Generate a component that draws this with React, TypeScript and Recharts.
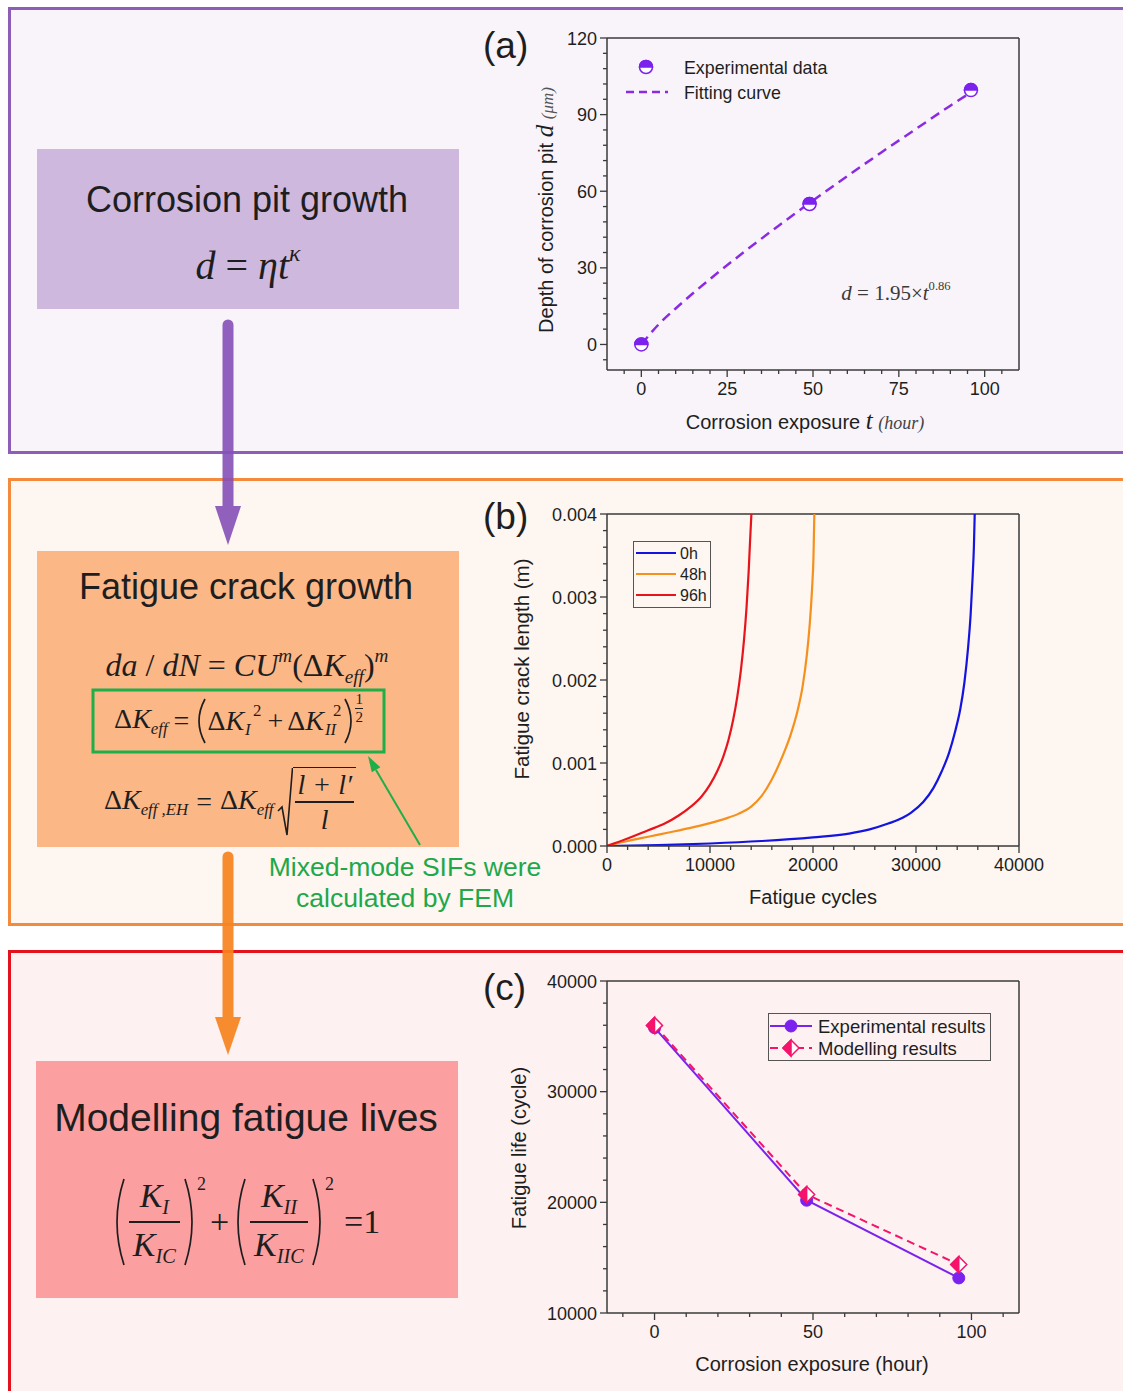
import React from "react";
import { ComposedChart, Line, XAxis, YAxis, ReferenceLine } from "recharts";

const sans = '"Liberation Sans", Arial, Helvetica, sans-serif';
const serif = '"Liberation Serif", "Times New Roman", serif';
const AX = "#3a3a3a";
const INK = "#1e1e1e";
const PURPLE = "#7b22ee";
const PINK = "#f5136b";

// (a) corrosion pit depth vs exposure time
const pitHours = [0, 49, 96];
const pitDepths = [0, 55, 99.6];
const fitHours = [0, 5, 10, 20, 30, 40, 50, 60, 70, 80, 90, 96];
const fitDepths = [0, 7.8, 14.1, 25.6, 36.3, 46.5, 56.4, 65.9, 75.3, 84.4, 93.5, 98.7];
const pitXMajor = [0, 25, 50, 75, 100];
const pitXMinor = [-5, 5, 10, 15, 20, 30, 35, 40, 45, 55, 60, 65, 70, 80, 85, 90, 95, 105];
const pitYMajor = [0, 30, 60, 90, 120];
const pitYMinor = [-6, 6, 12, 18, 24, 36, 42, 48, 54, 66, 72, 78, 84, 96, 102, 108, 114];

// (b) fatigue crack length vs cycles
const cycles0h = [0, 5000, 10000, 15000, 20000, 23500, 25500, 27300, 28700, 29500, 30700, 31700, 32500, 33200, 33800, 34300, 34700, 35050, 35300, 35500, 35620, 35700];
const length0h = [0, 0.00001, 0.00003, 0.00006, 0.000105, 0.00015, 0.0002, 0.00027, 0.00034, 0.0004, 0.00053, 0.0007, 0.0009, 0.00112, 0.00138, 0.00165, 0.00197, 0.00238, 0.00278, 0.00325, 0.0036, 0.004];
const cycles48h = [0, 2000, 4000, 6000, 8000, 10000, 11500, 12800, 14000, 15000, 16000, 17000, 17800, 18500, 19000, 19400, 19700, 19900, 20050, 20130];
const length48h = [0, 0.00006, 0.000112, 0.000163, 0.000215, 0.000275, 0.00033, 0.00039, 0.000475, 0.0006, 0.0008, 0.00107, 0.00133, 0.00163, 0.00193, 0.0023, 0.0027, 0.00308, 0.0035, 0.004];
const cycles96h = [0, 2000, 4000, 5600, 7000, 8200, 9200, 10000, 10700, 11300, 11800, 12250, 12650, 13000, 13300, 13550, 13750, 13900, 14020];
const length96h = [0, 0.00009, 0.00019, 0.00027, 0.00037, 0.00048, 0.0006, 0.00074, 0.0009, 0.00108, 0.00128, 0.00152, 0.0018, 0.00212, 0.00248, 0.00288, 0.0033, 0.0037, 0.004];
const crackXMajor = [0, 10000, 20000, 30000, 40000];
const crackXMinor = [2000, 4000, 6000, 8000, 12000, 14000, 16000, 18000, 22000, 24000, 26000, 28000, 32000, 34000, 36000, 38000];
const crackYMajor = [0, 0.001, 0.002, 0.003, 0.004];
const crackYMinor = [0.0002, 0.0004, 0.0006, 0.0008, 0.0012, 0.0014, 0.0016, 0.0018, 0.0022, 0.0024, 0.0026, 0.0028, 0.0032, 0.0034, 0.0036, 0.0038];

// (c) fatigue life vs exposure time
const lifeHours = [0, 48, 96];
const lifeExperimental = [35780, 20190, 13170];
const lifeModelling = [35990, 20710, 14380];
const lifeXMajor = [0, 50, 100];
const lifeXMinor = [-10, 10, 20, 30, 40, 60, 70, 80, 90, 110];
const lifeYMajor = [10000, 20000, 30000, 40000];
const lifeYMinor = [12000, 14000, 16000, 18000, 22000, 24000, 26000, 28000, 32000, 34000, 36000, 38000];

const pitData = pitHours.map((t, i) => ({ x: t, y: pitDepths[i] }));
const fitData = fitHours.map((t, i) => ({ x: t, y: fitDepths[i] }));
const crack0 = cycles0h.map((n, i) => ({ x: n, y: length0h[i] }));
const crack48 = cycles48h.map((n, i) => ({ x: n, y: length48h[i] }));
const crack96 = cycles96h.map((n, i) => ({ x: n, y: length96h[i] }));
const lifeExp = lifeHours.map((t, i) => ({ x: t, y: lifeExperimental[i] }));
const lifeMod = lifeHours.map((t, i) => ({ x: t, y: lifeModelling[i] }));

const isMajor = (majors: number[], v: number) => majors.some((m) => Math.abs(m - v) < 1e-9);

const xTick = (majors: number[], fmt: (v: number) => string) => (p: any) => {
  const { x, y, payload } = p;
  const big = isMajor(majors, payload.value);
  return (
    <g key={`xt-${payload.value}`}>
      <line x1={x} x2={x} y1={y} y2={y + (big ? 7 : 4)} stroke={AX} strokeWidth={1.3} />
      {big && (
        <text x={x} y={y + 25} textAnchor="middle" fontFamily={sans} fontSize={18} fill={INK}>
          {fmt(payload.value)}
        </text>
      )}
    </g>
  );
};

const yTick = (majors: number[], fmt: (v: number) => string) => (p: any) => {
  const { x, y, payload } = p;
  const big = isMajor(majors, payload.value);
  return (
    <g key={`yt-${payload.value}`}>
      <line x1={x} x2={x - (big ? 7 : 4)} y1={y} y2={y} stroke={AX} strokeWidth={1.3} />
      {big && (
        <text x={x - 10} y={y + 6.5} textAnchor="end" fontFamily={sans} fontSize={18} fill={INK}>
          {fmt(payload.value)}
        </text>
      )}
    </g>
  );
};

const HalfCircle = (props: any) => {
  const { cx, cy, index } = props;
  if (cx == null || cy == null) return <g key={index} />;
  const r = 6.5;
  return (
    <g key={index}>
      <circle cx={cx} cy={cy} r={r} fill="#fff" stroke={PURPLE} strokeWidth={1.5} />
      <path d={`M${cx - r},${cy} A${r},${r} 0 0 1 ${cx + r},${cy} Z`} fill={PURPLE} stroke={PURPLE} strokeWidth={1.5} />
    </g>
  );
};

const FullCircle = (props: any) => {
  const { cx, cy, index } = props;
  if (cx == null || cy == null) return <g key={index} />;
  return <circle key={index} cx={cx} cy={cy} r={6} fill={PURPLE} stroke={PURPLE} />;
};

const HalfDiamond = (props: any) => {
  const { cx, cy, index } = props;
  if (cx == null || cy == null) return <g key={index} />;
  const s = 8;
  return (
    <g key={index}>
      <polygon points={`${cx},${cy - s} ${cx + s},${cy} ${cx},${cy + s} ${cx - s},${cy}`} fill="#fff" stroke={PINK} strokeWidth={1.5} />
      <polygon points={`${cx},${cy - s} ${cx},${cy + s} ${cx - s},${cy}`} fill={PINK} stroke={PINK} strokeWidth={1.5} />
    </g>
  );
};

const axisLine = { stroke: AX, strokeWidth: 1.5 };
const chartMargin = { top: 18, right: 41, bottom: 0, left: 0 };

function Txt({ x, y, size, children, anchor = "center", color = INK, family = sans }: any) {
  const tx = anchor === "center" ? "-50%" : "0";
  return (
    <div
      style={{
        position: "absolute",
        left: x,
        top: y,
        transform: `translate(${tx},-50%)`,
        whiteSpace: "nowrap",
        fontFamily: family,
        fontSize: size,
        lineHeight: 1.15,
        color,
      }}
    >
      {children}
    </div>
  );
}

function VTxt({ x, y, size, children }: any) {
  return (
    <div
      style={{
        position: "absolute",
        left: x,
        top: y,
        transform: "translate(-50%,-50%) rotate(-90deg)",
        whiteSpace: "nowrap",
        fontFamily: sans,
        fontSize: size,
        lineHeight: 1.15,
        color: INK,
      }}
    >
      {children}
    </div>
  );
}

const Sub = ({ children }: any) => (
  <span style={{ fontSize: "0.6em", verticalAlign: "-0.35em", fontStyle: "italic" }}>{children}</span>
);
const Sup = ({ children, italic = false }: any) => (
  <span style={{ fontSize: "0.6em", verticalAlign: "0.75em", fontStyle: italic ? "italic" : "normal" }}>{children}</span>
);
const SubSup = ({ sub, sup }: any) => (
  <span style={{ display: "inline-flex", flexDirection: "column", fontSize: "0.6em", lineHeight: 1, marginLeft: 1, marginRight: 2 }}>
    <span style={{ paddingLeft: 8 }}>{sup}</span>
    <span style={{ fontStyle: "italic", marginTop: 2 }}>{sub}</span>
  </span>
);

const Paren = ({ h, right = false, w = 12 }: any) => (
  <svg width={w} height={h} style={{ display: "block", flex: "none" }}>
    <path
      d={right ? `M2,2 Q${w + 2},${h / 2} 2,${h - 2}` : `M${w - 2},2 Q-2,${h / 2} ${w - 2},${h - 2}`}
      fill="none"
      stroke={INK}
      strokeWidth={1.7}
    />
  </svg>
);

const Frac = ({ num, den }: any) => (
  <span style={{ display: "inline-flex", flexDirection: "column", alignItems: "center", lineHeight: 1.1, margin: "0 3px" }}>
    <span style={{ padding: "0 4px" }}>{num}</span>
    <span style={{ alignSelf: "stretch", height: 1.6, background: INK, margin: "3px 0" }} />
    <span style={{ padding: "0 4px" }}>{den}</span>
  </span>
);

export default function App() {
  return (
    <div style={{ position: "absolute", left: 0, top: 0, width: 1123, height: 1391, overflow: "hidden", background: "#fff" }}>
      {/* panels */}
      <div style={{ position: "absolute", left: 8, top: 7, width: 1140, height: 447, boxSizing: "border-box", border: "3px solid #8e5db8", background: "#f9f4f9" }} />
      <div style={{ position: "absolute", left: 8, top: 478, width: 1140, height: 448, boxSizing: "border-box", border: "3px solid #f48a3c", background: "#fdf6f1" }} />
      <div style={{ position: "absolute", left: 8, top: 950, width: 1140, height: 500, boxSizing: "border-box", border: "3px solid #e3121c", background: "#fdf1f1" }} />

      {/* left boxes */}
      <div style={{ position: "absolute", left: 37, top: 149, width: 422, height: 160, background: "#cfb8de" }} />
      <div style={{ position: "absolute", left: 37, top: 551, width: 422, height: 296, background: "#fcb787" }} />
      <div style={{ position: "absolute", left: 36, top: 1061, width: 422, height: 237, background: "#fc9fa0" }} />

      <Txt x={247} y={200} size={36}>Corrosion pit growth</Txt>
      <div style={{ position: "absolute", left: 37, width: 422, top: 228, textAlign: "center", fontFamily: serif, fontSize: 40, lineHeight: "50px", color: INK }}>
        <i>d</i> = <i>ηt</i>
        <Sup italic>κ</Sup>
      </div>

      <Txt x={246} y={587} size={36}>Fatigue crack growth</Txt>
      <div style={{ position: "absolute", left: 37, width: 420, top: 634, textAlign: "center", fontFamily: serif, fontSize: 32, lineHeight: "44px", color: INK }}>
        <i>da</i> / <i>dN</i> = <i>CU</i>
        <Sup italic>m</Sup>(Δ<i>K</i>
        <Sub>eff</Sub>)<Sup italic>m</Sup>
      </div>
      <div style={{ position: "absolute", left: 93, width: 291, top: 690, height: 62, display: "flex", alignItems: "center", justifyContent: "center", fontFamily: serif, fontSize: 28, color: INK }}>
        <span>
          Δ<i>K</i>
          <Sub>eff</Sub>
        </span>
        <span style={{ margin: "0 6px" }}>=</span>
        <Paren h={48} />
        <span>
          Δ<i>K</i>
        </span>
        <SubSup sub="I" sup="2" />
        <span style={{ margin: "0 4px" }}>+</span>
        <span>
          Δ<i>K</i>
        </span>
        <SubSup sub="II" sup="2" />
        <Paren h={48} right />
        <span style={{ display: "inline-flex", flexDirection: "column", alignItems: "center", fontSize: 15, lineHeight: 1, alignSelf: "flex-start", marginTop: 2 }}>
          <span>1</span>
          <span style={{ alignSelf: "stretch", height: 1, background: INK, margin: "1px 0" }} />
          <span>2</span>
        </span>
      </div>
      <div style={{ position: "absolute", left: 37, width: 386, top: 766, height: 72, display: "flex", alignItems: "center", justifyContent: "center", fontFamily: serif, fontSize: 28, color: INK }}>
        <span>
          Δ<i>K</i>
          <Sub>eff ,EH</Sub>
        </span>
        <span style={{ margin: "0 8px" }}>=</span>
        <span>
          Δ<i>K</i>
          <Sub>eff</Sub>
        </span>
        <span style={{ display: "inline-flex", alignItems: "stretch", marginLeft: 4 }}>
          <svg width={16} height={70} style={{ display: "block", flex: "none" }}>
            <path d="M1,44 L5,40 L10,68 L15.5,1" fill="none" stroke={INK} strokeWidth={1.6} />
          </svg>
          <span style={{ display: "inline-flex", flexDirection: "column", alignItems: "center", borderTop: `1.6px solid ${INK}`, padding: "2px 2px 0", lineHeight: 1.05 }}>
            <span style={{ fontStyle: "italic", padding: "0 2px" }}>l + l′</span>
            <span style={{ alignSelf: "stretch", height: 1.6, background: INK, margin: "2px 0" }} />
            <span style={{ fontStyle: "italic" }}>l</span>
          </span>
        </span>
      </div>

      <Txt x={246} y={1118} size={39}>Modelling fatigue lives</Txt>
      <div style={{ position: "absolute", left: 36, width: 420, top: 1176, height: 92, display: "flex", alignItems: "center", justifyContent: "center", fontFamily: serif, fontSize: 34, color: INK }}>
        <Paren h={90} w={14} />
        <Frac
          num={
            <>
              <i>K</i>
              <Sub>I</Sub>
            </>
          }
          den={
            <>
              <i>K</i>
              <Sub>IC</Sub>
            </>
          }
        />
        <Paren h={90} w={14} right />
        <span style={{ fontSize: 18, alignSelf: "flex-start", marginTop: -2 }}>2</span>
        <span style={{ margin: "0 4px" }}>+</span>
        <Paren h={90} w={14} />
        <Frac
          num={
            <>
              <i>K</i>
              <Sub>II</Sub>
            </>
          }
          den={
            <>
              <i>K</i>
              <Sub>IIC</Sub>
            </>
          }
        />
        <Paren h={90} w={14} right />
        <span style={{ fontSize: 18, alignSelf: "flex-start", marginTop: -2 }}>2</span>
        <span style={{ marginLeft: 10 }}>=1</span>
      </div>

      {/* chart (a) */}
      <div style={{ position: "absolute", left: 480, top: 20 }}>
        <ComposedChart width={580} height={420} margin={chartMargin}>
          <XAxis type="number" dataKey="x" domain={[-10, 110]} allowDataOverflow ticks={[...pitXMajor, ...pitXMinor]} interval={0} tickSize={0} tickMargin={0} height={70} axisLine={axisLine} tickLine={false} tick={xTick(pitXMajor, (v) => String(v))} />
          <YAxis type="number" dataKey="y" domain={[-10, 120]} allowDataOverflow ticks={[...pitYMajor, ...pitYMinor]} interval={0} tickSize={0} tickMargin={0} width={127} axisLine={axisLine} tickLine={false} tick={yTick(pitYMajor, (v) => String(v))} />
          <ReferenceLine x={110} stroke={AX} strokeWidth={1.5} />
          <ReferenceLine y={120} stroke={AX} strokeWidth={1.5} />
          <Line data={fitData} dataKey="y" type="monotone" stroke="#8a2be2" strokeWidth={2.5} strokeDasharray="10 6" dot={false} activeDot={false} isAnimationActive={false} />
          <Line data={pitData} dataKey="y" stroke="none" dot={HalfCircle} activeDot={false} isAnimationActive={false} />
        </ComposedChart>
      </div>

      {/* chart (b) */}
      <div style={{ position: "absolute", left: 480, top: 496 }}>
        <ComposedChart width={580} height={420} margin={chartMargin}>
          <XAxis type="number" dataKey="x" domain={[0, 40000]} allowDataOverflow ticks={[...crackXMajor, ...crackXMinor]} interval={0} tickSize={0} tickMargin={0} height={70} axisLine={axisLine} tickLine={false} tick={xTick(crackXMajor, (v) => String(v))} />
          <YAxis type="number" dataKey="y" domain={[0, 0.004]} allowDataOverflow ticks={[...crackYMajor, ...crackYMinor]} interval={0} tickSize={0} tickMargin={0} width={127} axisLine={axisLine} tickLine={false} tick={yTick(crackYMajor, (v) => v.toFixed(3))} />
          <ReferenceLine x={40000} stroke={AX} strokeWidth={1.5} />
          <ReferenceLine y={0.004} stroke={AX} strokeWidth={1.5} />
          <Line data={crack0} dataKey="y" type="monotone" stroke="#1414e0" strokeWidth={2.2} dot={false} activeDot={false} isAnimationActive={false} />
          <Line data={crack48} dataKey="y" type="monotone" stroke="#f5901c" strokeWidth={2.2} dot={false} activeDot={false} isAnimationActive={false} />
          <Line data={crack96} dataKey="y" type="monotone" stroke="#e8141c" strokeWidth={2.2} dot={false} activeDot={false} isAnimationActive={false} />
        </ComposedChart>
      </div>

      {/* chart (c) */}
      <div style={{ position: "absolute", left: 480, top: 963 }}>
        <ComposedChart width={580} height={420} margin={chartMargin}>
          <XAxis type="number" dataKey="x" domain={[-15, 115]} allowDataOverflow ticks={[...lifeXMajor, ...lifeXMinor]} interval={0} tickSize={0} tickMargin={0} height={70} axisLine={axisLine} tickLine={false} tick={xTick(lifeXMajor, (v) => String(v))} />
          <YAxis type="number" dataKey="y" domain={[10000, 40000]} allowDataOverflow ticks={[...lifeYMajor, ...lifeYMinor]} interval={0} tickSize={0} tickMargin={0} width={127} axisLine={axisLine} tickLine={false} tick={yTick(lifeYMajor, (v) => String(v))} />
          <ReferenceLine x={115} stroke={AX} strokeWidth={1.5} />
          <ReferenceLine y={40000} stroke={AX} strokeWidth={1.5} />
          <Line data={lifeExp} dataKey="y" stroke={PURPLE} strokeWidth={2} dot={FullCircle} activeDot={false} isAnimationActive={false} />
          <Line data={lifeMod} dataKey="y" stroke={PINK} strokeWidth={2} strokeDasharray="8 5" dot={HalfDiamond} activeDot={false} isAnimationActive={false} />
        </ComposedChart>
      </div>

      {/* overlay: arrows, legends, callout */}
      <svg width={1123} height={1391} style={{ position: "absolute", left: 0, top: 0, pointerEvents: "none" }}>
        <g opacity={0.9} fill="#8650b8" stroke="#8650b8">
          <line x1={228} y1={325} x2={228} y2={512} strokeWidth={11} strokeLinecap="round" />
          <polygon points="215,506 241,506 228,545" stroke="none" />
        </g>
        <g opacity={0.92} fill="#f7841f" stroke="#f7841f">
          <line x1={228} y1={857} x2={228} y2={1022} strokeWidth={11} strokeLinecap="round" />
          <polygon points="215,1017 241,1017 228,1055" stroke="none" />
        </g>
        <rect x={93} y={690} width={291} height={62} fill="none" stroke="#1fae48" strokeWidth={3} />
        <line x1={420} y1={845} x2={376} y2={770} stroke="#1fae48" strokeWidth={2} />
        <polygon points="368,756 380.4,767.3 371.8,772.3" fill="#1fae48" />

        {/* legend (a) */}
        <HalfCircle cx={646} cy={67} index="la" />
        <line x1={626} x2={668} y1={92} y2={92} stroke="#8a2be2" strokeWidth={2.5} strokeDasharray="8 5" />
        <text x={684} y={73.5} fontFamily={sans} fontSize={17.8} fill={INK}>Experimental data</text>
        <text x={684} y={98.5} fontFamily={sans} fontSize={17.8} fill={INK}>Fitting curve</text>

        {/* legend (b) */}
        <rect x={633.5} y={541.5} width={77} height={66} fill="none" stroke="#555" strokeWidth={1} />
        <line x1={636} x2={676} y1={553} y2={553} stroke="#1414e0" strokeWidth={2} />
        <line x1={636} x2={676} y1={574} y2={574} stroke="#f5901c" strokeWidth={2} />
        <line x1={636} x2={676} y1={595} y2={595} stroke="#e8141c" strokeWidth={2} />
        <text x={680} y={559} fontFamily={sans} fontSize={16} fill={INK}>0h</text>
        <text x={680} y={580} fontFamily={sans} fontSize={16} fill={INK}>48h</text>
        <text x={680} y={601} fontFamily={sans} fontSize={16} fill={INK}>96h</text>

        {/* legend (c) */}
        <rect x={768.5} y={1013.5} width={222} height={47} fill="none" stroke="#555" strokeWidth={1} />
        <line x1={770} x2={812} y1={1026} y2={1026} stroke={PURPLE} strokeWidth={2} />
        <FullCircle cx={791} cy={1026} index="lc1" />
        <line x1={770} x2={812} y1={1048} y2={1048} stroke={PINK} strokeWidth={2} strokeDasharray="8 5" />
        <HalfDiamond cx={791} cy={1048} index="lc2" />
        <text x={818} y={1032.5} fontFamily={sans} fontSize={18.5} fill={INK}>Experimental results</text>
        <text x={818} y={1054.5} fontFamily={sans} fontSize={18.5} fill={INK}>Modelling results</text>
      </svg>

      {/* chart texts */}
      <Txt x={483} y={46} size={37} anchor="left">(a)</Txt>
      <Txt x={483} y={517} size={37} anchor="left">(b)</Txt>
      <Txt x={483} y={988} size={37} anchor="left">(c)</Txt>

      <VTxt x={545} y={210} size={20}>
        Depth of corrosion pit <span style={{ fontFamily: serif, fontStyle: "italic", fontSize: 25 }}>d</span>{" "}
        <span style={{ fontFamily: serif, fontStyle: "italic", fontSize: 17, color: "#555" }}>(μm)</span>
      </VTxt>
      <Txt x={805} y={421} size={20}>
        Corrosion exposure <span style={{ fontFamily: serif, fontStyle: "italic", fontSize: 25 }}>t</span>{" "}
        <span style={{ fontFamily: serif, fontStyle: "italic", fontSize: 18, color: "#444" }}>(hour)</span>
      </Txt>
      <Txt x={896} y={292} size={21} family={serif} color="#3a3a3a">
        <i>d</i> = 1.95×<i>t</i>
        <Sup>0.86</Sup>
      </Txt>

      <VTxt x={522} y={669} size={20.5}>Fatigue crack length (m)</VTxt>
      <Txt x={813} y={897} size={20}>Fatigue cycles</Txt>

      <VTxt x={519} y={1148} size={20}>Fatigue life (cycle)</VTxt>
      <Txt x={812} y={1364} size={20}>Corrosion exposure (hour)</Txt>

      <Txt x={405} y={867} size={26.5} color="#1fa84a">Mixed-mode SIFs were</Txt>
      <Txt x={405} y={898} size={26.5} color="#1fa84a">calculated by FEM</Txt>
    </div>
  );
}
